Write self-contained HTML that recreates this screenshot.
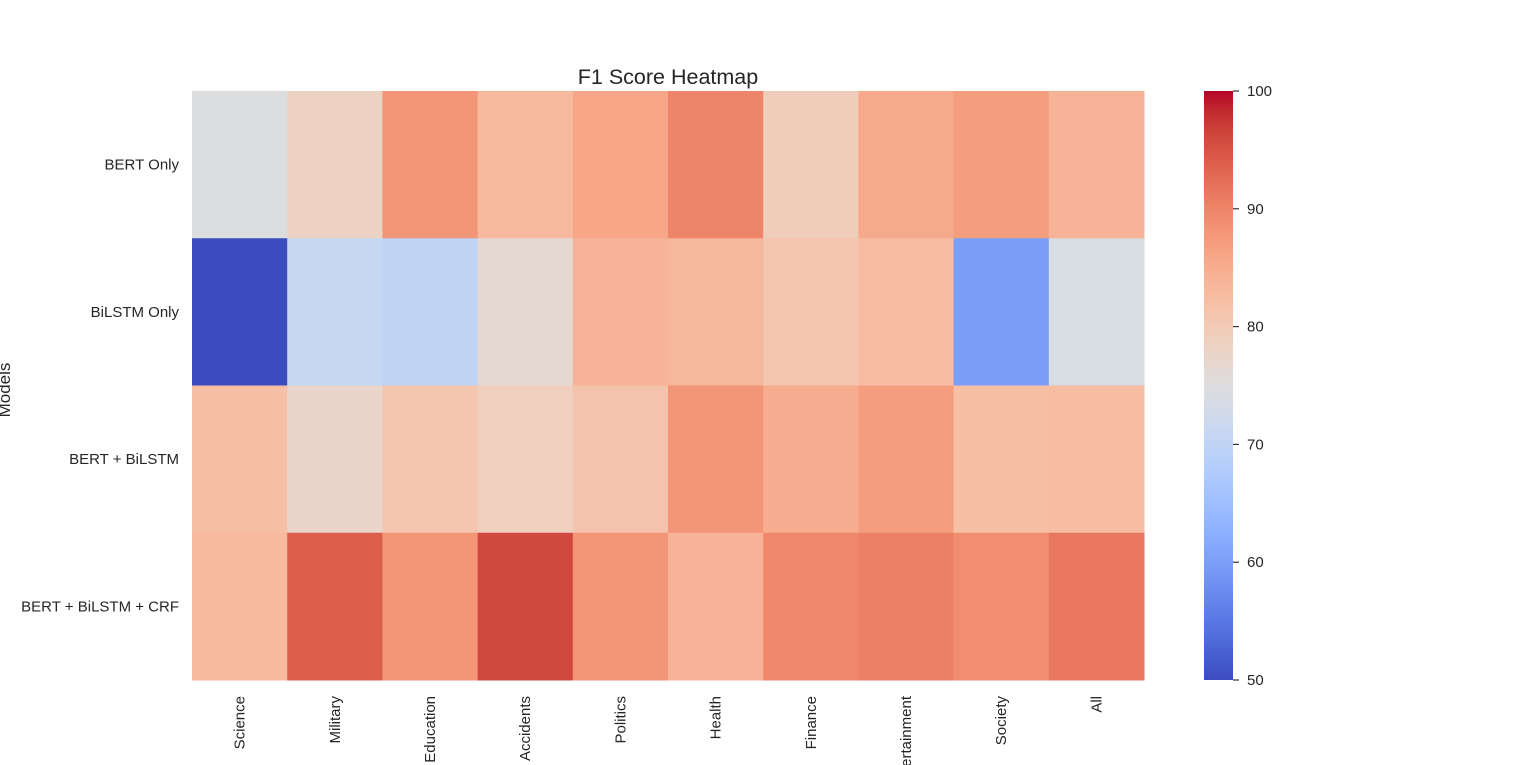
<!DOCTYPE html>
<html><head><meta charset="utf-8"><style>
body{margin:0;background:#fff;}
svg{display:block;font-family:"Liberation Sans",sans-serif;}
</style></head><body>
<svg id="chart" width="1536" height="765">
<defs><linearGradient id="cbg" x1="0" y1="1" x2="0" y2="0"></linearGradient></defs>
<text x="668" y="84" font-size="21.5" text-anchor="middle" fill="#262626">F1 Score Heatmap</text>
<text transform="translate(10,390) rotate(-90)" font-size="17" text-anchor="middle" fill="#262626">Models</text>
<g id="cells"></g>
<g id="ylabels"></g>
<g id="xlabels"></g>
<rect x="1204" y="91" width="29" height="589" fill="url(#cbg)"/>
<g id="cbticks"></g>
</svg>
<script>
const models=["BERT Only","BiLSTM Only","BERT + BiLSTM","BERT + BiLSTM + CRF"];
const categories=["Science","Military","Education","Accidents","Politics","Health","Finance","Entertainment","Society","All"];
const rowBertOnly=[74.8,78.5,88,83,86,90,79.5,85.5,87,84];
const rowBilstmOnly=[50,71,70,76.5,84,83.5,81,82.5,60,74];
const rowBertBilstm=[82,77.5,81,79,81.5,88,85,87,82,82.5];
const rowBertBilstmCrf=[83,94,88,96,88,84,89.5,90.5,89,91.5];
const values=[rowBertOnly,rowBilstmOnly,rowBertBilstm,rowBertBilstmCrf];
const vmin=50,vmax=100;
const cbTicks=[50,60,70,80,90,100];
const cw=[[59,76,192],[68,90,204],[77,104,215],[87,117,225],[98,130,234],[108,142,241],[119,154,247],[130,165,251],[141,176,254],[152,185,255],[163,194,255],[174,201,253],[184,208,249],[194,213,244],[204,217,238],[213,219,230],[221,221,221],[229,216,209],[236,211,197],[241,204,185],[245,196,173],[247,187,160],[247,177,148],[247,166,135],[244,154,123],[241,141,111],[236,127,99],[229,112,88],[222,96,77],[213,80,66],[203,62,56],[192,40,47],[180,4,38]];
function color(v){let t=Math.max(0,Math.min(1,(v-vmin)/(vmax-vmin)))*32;let i=Math.min(31,Math.floor(t)),f=t-i;
const c=cw[i].map((a,k)=>Math.round(a+(cw[i+1][k]-a)*f));return `rgb(${c})`;}
const X0=192,X1=1144,Y0=91,Y1=680;
const xs=i=>X0+(X1-X0)*i/categories.length, ys=j=>Y0+(Y1-Y0)*j/models.length;
const NS="http://www.w3.org/2000/svg";
const cells=document.getElementById('cells'),yl=document.getElementById('ylabels'),xl=document.getElementById('xlabels');
values.forEach((row,j)=>row.forEach((v,i)=>{const r=document.createElementNS(NS,'rect');
r.setAttribute('x',xs(i));r.setAttribute('y',ys(j));r.setAttribute('width',xs(i+1)-xs(i)+0.5);r.setAttribute('height',ys(j+1)-ys(j)+0.5);r.setAttribute('fill',color(v));


cells.appendChild(r);}));
models.forEach((m,j)=>{const t=document.createElementNS(NS,'text');t.setAttribute('x',179);t.setAttribute('y',(ys(j)+ys(j+1))/2+5);t.setAttribute('text-anchor','end');t.setAttribute('font-size','15');t.setAttribute('fill','#262626');t.textContent=m;


yl.appendChild(t);});
categories.forEach((c,i)=>{const t=document.createElementNS(NS,'text');const cx=(xs(i)+xs(i+1))/2+5;t.setAttribute('transform',`translate(${cx},696) rotate(-90)`);t.setAttribute('text-anchor','end');t.setAttribute('font-size','15');t.setAttribute('fill','#262626');t.textContent=c;


xl.appendChild(t);});
const g=document.getElementById('cbg');
for(let k=0;k<=32;k++){const s=document.createElementNS(NS,'stop');s.setAttribute('offset',k/32);s.setAttribute('stop-color',`rgb(${cw[k]})`);g.appendChild(s);}
const cbt=document.getElementById('cbticks');
cbTicks.forEach(v=>{const y=Y1-(Y1-Y0)*(v-vmin)/(vmax-vmin);const l=document.createElementNS(NS,'line');l.setAttribute('x1',1233);l.setAttribute('x2',1239);l.setAttribute('y1',y);l.setAttribute('y2',y);l.setAttribute('stroke','#333');l.setAttribute('stroke-width','1.2');


cbt.appendChild(l);
const t=document.createElementNS(NS,'text');t.setAttribute('x',1247);t.setAttribute('y',y+5);t.setAttribute('font-size','15');t.setAttribute('fill','#262626');t.textContent=v;


cbt.appendChild(t);});
</script>
</body></html>
